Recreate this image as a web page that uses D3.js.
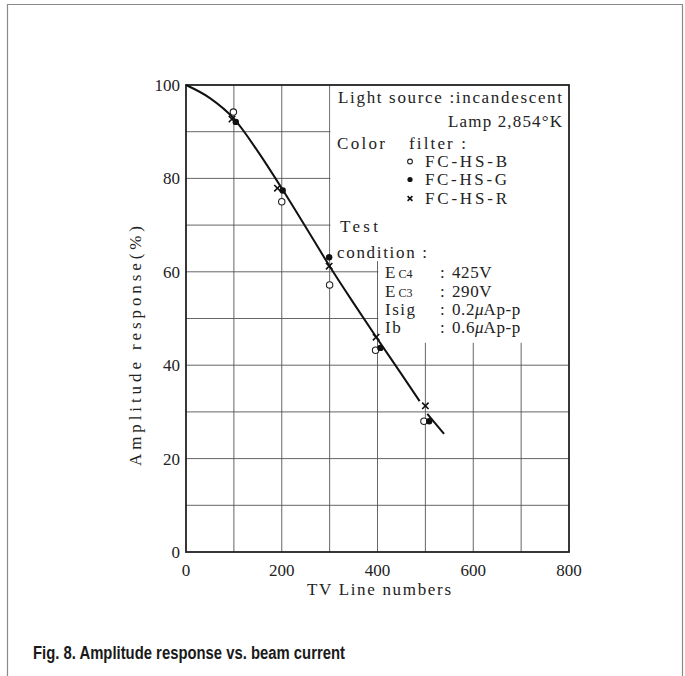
<!DOCTYPE html>
<html>
<head>
<meta charset="utf-8">
<script src="https://cdn.jsdelivr.net/npm/d3@7"></script>
<style>
  html, body { margin: 0; padding: 0; background: #fff; }
  svg { display: block; }
  .serif { font-family: "Liberation Serif", "Times New Roman", serif; fill: #222; }
</style>
</head>
<body>
<div id="chart"></div>
<script>
// ---------------- data ----------------
const xTicks = [0, 200, 400, 600, 800];
const yTicks = [0, 20, 40, 60, 80, 100];
const xGrid = [100, 200, 300, 400, 500, 600, 700];
const yGrid = [10, 20, 30, 40, 50, 60, 70, 80, 90];

// measured points [TV lines, amplitude %]
const seriesB = [[99, 94.2], [200, 75.0], [300, 57.2], [396, 43.2], [497, 28.0]];   // open circle
const seriesG = [[104, 92.1], [202, 77.4], [299, 63.1], [406, 43.7], [508, 28.0]];  // filled circle
const seriesR = [[96, 92.7], [191, 77.9], [299, 61.2], [397, 46.0], [500, 31.3]];   // cross

// fitted curve (drawn in two pieces, broken around the 500-line marks)
const curveA = [[0, 100], [50, 97.2], [100, 92.8], [150, 85.8], [200, 77.9], [250, 69.6],
                [300, 61.2], [350, 53.3], [400, 45.6], [450, 38.1], [488, 32.3]];
const curveB = [[504, 29.6], [539, 25.3]];

const xLabel = "TV Line numbers";
const yLabel = "Amplitude response(%)";
const title = "Fig. 8. Amplitude response vs. beam current";

// ---------------- layout ----------------
const W = 685, H = 676;
const svg = d3.select("#chart").append("svg").attr("width", W).attr("height", H);
svg.append("rect").attr("width", W).attr("height", H).attr("fill", "#fff");

// outer page frame
svg.append("path").attr("d", "M7.5,676 V4.5 H682.5 V676")
  .attr("fill", "none").attr("stroke", "#8a8a8a").attr("stroke-width", 1.2);

const x = d3.scaleLinear().domain([0, 800]).range([186, 569]);
const y = d3.scaleLinear().domain([0, 100]).range([552, 85]);

const g = svg.append("g");

// grid
g.selectAll(".vgrid").data(xGrid).join("line")
  .attr("x1", d => x(d)).attr("x2", d => x(d))
  .attr("y1", y(0)).attr("y2", y(100))
  .attr("stroke", "#555").attr("stroke-width", 0.9);
g.selectAll(".hgrid").data(yGrid).join("line")
  .attr("x1", x(0)).attr("x2", x(800))
  .attr("y1", d => y(d)).attr("y2", d => y(d))
  .attr("stroke", "#555").attr("stroke-width", 0.9);

// blank annotation area (grid interrupted)
g.append("rect")
  .attr("x", x(300) + 0.8).attr("y", y(100))
  .attr("width", x(800) - x(300) - 0.8).attr("height", y(62.3) - y(100))
  .attr("fill", "#fff");
g.append("rect")
  .attr("x", x(400) + 0.8).attr("y", y(62.3) - 1)
  .attr("width", x(800) - x(400) - 0.8).attr("height", y(44.8) - y(62.3) + 1)
  .attr("fill", "#fff");

// plot frame
g.append("rect")
  .attr("x", x(0)).attr("y", y(100))
  .attr("width", x(800) - x(0)).attr("height", y(0) - y(100))
  .attr("fill", "none").attr("stroke", "#222").attr("stroke-width", 1.8);

// tick labels
svg.selectAll(".xt").data(xTicks).join("text")
  .attr("class", "serif")
  .attr("x", d => x(d)).attr("y", 576)
  .attr("text-anchor", "middle")
  .attr("font-size", 17).attr("fill", "#444")
  .text(d => d);
svg.selectAll(".yt").data(yTicks).join("text")
  .attr("class", "serif")
  .attr("x", x(0) - 6).attr("y", d => y(d) + 6)
  .attr("text-anchor", "end")
  .attr("font-size", 17).attr("fill", "#444")
  .text(d => d);

// axis titles
svg.append("text").attr("class", "serif")
  .attr("x", 379).attr("y", 595)
  .attr("text-anchor", "middle").attr("font-size", 17)
  .attr("textLength", 144)
  .text(xLabel);
svg.append("text").attr("class", "serif")
  .attr("transform", "translate(141,346) rotate(-90)")
  .attr("text-anchor", "middle").attr("font-size", 17)
  .attr("textLength", 240)
  .text(yLabel);

// curve
const line = d3.line().x(d => x(d[0])).y(d => y(d[1])).curve(d3.curveMonotoneX);
[curveA, curveB].forEach(c => {
  g.append("path").attr("d", line(c))
    .attr("fill", "none").attr("stroke", "#111").attr("stroke-width", 2);
});

// markers
function openCircle(sel, cx, cy, r) {
  sel.append("circle").attr("cx", cx).attr("cy", cy).attr("r", r)
    .attr("fill", "#fff").attr("stroke", "#222").attr("stroke-width", 1.1);
}
function filledCircle(sel, cx, cy, r) {
  sel.append("circle").attr("cx", cx).attr("cy", cy).attr("r", r).attr("fill", "#111");
}
function cross(sel, cx, cy, s) {
  sel.append("path")
    .attr("d", `M${cx - s},${cy - s}L${cx + s},${cy + s}M${cx - s},${cy + s}L${cx + s},${cy - s}`)
    .attr("stroke", "#111").attr("stroke-width", 1.6).attr("fill", "none");
}
const mk = svg.append("g");
seriesB.forEach(d => openCircle(mk, x(d[0]), y(d[1]), 3.2));
seriesG.forEach(d => filledCircle(mk, x(d[0]), y(d[1]), 3.2));
seriesR.forEach(d => cross(mk, x(d[0]), y(d[1]), 3.2));

// annotation text
const ann = svg.append("g").attr("class", "serif").attr("font-size", 17);
ann.append("text").attr("x", 338).attr("y", 103).attr("textLength", 224).text("Light source :incandescent");
ann.append("text").attr("x", 562).attr("y", 127).attr("text-anchor", "end").attr("textLength", 114).text("Lamp 2,854°K");
ann.append("text").attr("x", 337).attr("y", 149).attr("textLength", 48).text("Color");
ann.append("text").attr("x", 409).attr("y", 149).attr("textLength", 57).text("filter :");

const legendItems = [
  { name: "FC-HS-B", type: "open", yy: 167 },
  { name: "FC-HS-G", type: "filled", yy: 185 },
  { name: "FC-HS-R", type: "cross", yy: 204 }
];
legendItems.forEach(it => {
  const cy = it.yy - 5.5;
  if (it.type === "open") openCircle(svg, 410, cy, 2.4);
  else if (it.type === "filled") filledCircle(svg, 410, cy, 2.6);
  else cross(svg, 410, cy, 2.4);
  ann.append("text").attr("x", 425).attr("y", it.yy).attr("textLength", 82).text(it.name);
});

ann.append("text").attr("x", 340).attr("y", 232).attr("textLength", 38).text("Test");
ann.append("text").attr("x", 337).attr("y", 258).attr("textLength", 90).text("condition :");

const conds = [
  { lab: "E", sub: "C4", val: "425V", yy: 278 },
  { lab: "E", sub: "C3", val: "290V", yy: 297 },
  { lab: "Isig", sub: "", val: "0.2", yy: 315, mu: true },
  { lab: "Ib", sub: "", val: "0.6", yy: 333, mu: true }
];
conds.forEach(c => {
  const t = ann.append("text").attr("x", 385).attr("y", c.yy);
  if (c.sub) {
    t.append("tspan").text(c.lab);
    t.append("tspan").attr("dx", 3).attr("font-size", 12).text(c.sub);
  } else {
    t.attr("letter-spacing", 1.5).text(c.lab);
  }
  const v = ann.append("text").attr("x", 440).attr("y", c.yy);
  v.append("tspan").text(":");
  v.append("tspan").attr("x", 452).attr("letter-spacing", 0.6).text(c.val);
  if (c.mu) {
    v.append("tspan").attr("font-style", "italic").text("μ");
    v.append("tspan").attr("letter-spacing", 0.6).text("Ap-p");
  }
});

// caption
svg.append("text")
  .attr("x", 33).attr("y", 659)
  .attr("font-family", "'Liberation Sans', Arial, sans-serif")
  .attr("font-weight", "bold").attr("font-size", 18).attr("fill", "#1a1a1a")
  .attr("textLength", 312).attr("lengthAdjust", "spacingAndGlyphs")
  .text(title);
</script>
</body>
</html>
